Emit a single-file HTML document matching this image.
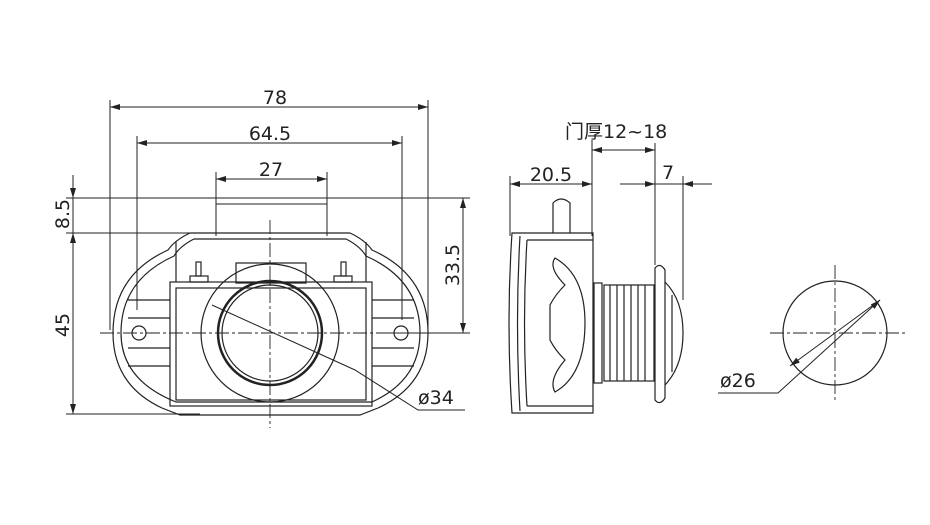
<!DOCTYPE html>
<html><head><meta charset="utf-8"><style>body{margin:0;background:#fff}svg{display:block}</style></head><body>
<svg width="930" height="525" viewBox="0 0 930 525" xmlns="http://www.w3.org/2000/svg" font-family="'DejaVu Sans','Noto Sans CJK SC',sans-serif" fill="none" stroke="#222" stroke-width="1.2">
<defs><marker id="a" viewBox="0 0 10 6" refX="10" refY="3" markerWidth="10" markerHeight="6" orient="auto-start-reverse"><path d="M0,0L10,3L0,6z" fill="#222" stroke="none"/></marker></defs>
<!-- front dims -->
<g stroke-width="1">
<line x1="110" y1="100" x2="110" y2="330"/><line x1="428" y1="100" x2="428" y2="330"/>
<line x1="137" y1="136" x2="137" y2="310"/><line x1="402" y1="136" x2="402" y2="320"/>
<line x1="216" y1="172" x2="216" y2="236"/><line x1="327" y1="172" x2="327" y2="236"/>
<line x1="110" y1="107" x2="428" y2="107" marker-start="url(#a)" marker-end="url(#a)"/>
<line x1="137" y1="143" x2="402" y2="143" marker-start="url(#a)" marker-end="url(#a)"/>
<line x1="216" y1="179" x2="327" y2="179" marker-start="url(#a)" marker-end="url(#a)"/>
<line x1="66" y1="198" x2="470" y2="198"/><line x1="66" y1="233" x2="216" y2="233"/>
<line x1="66" y1="414" x2="200" y2="414"/><line x1="380" y1="333" x2="470" y2="333"/>
<line x1="73" y1="175" x2="73" y2="198" marker-end="url(#a)"/><line x1="73" y1="233" x2="73" y2="414" marker-start="url(#a)" marker-end="url(#a)"/>
<line x1="73" y1="198" x2="73" y2="233"/>
<line x1="463" y1="198" x2="463" y2="333" marker-start="url(#a)" marker-end="url(#a)"/>
<line x1="216" y1="198" x2="327" y2="198"/><line x1="216" y1="204" x2="327" y2="204"/>
</g>
<g font-size="19" fill="#222" stroke="none">
<text x="275" y="104" text-anchor="middle">78</text>
<text x="270" y="140" text-anchor="middle">64.5</text>
<text x="271" y="176" text-anchor="middle">27</text>
<text transform="translate(69,214) rotate(-90)" text-anchor="middle">8.5</text>
<text transform="translate(69,325) rotate(-90)" text-anchor="middle">45</text>
<text transform="translate(459,265) rotate(-90)" text-anchor="middle">33.5</text>
<text x="418" y="404">ø34</text>
<text x="565" y="138">门厚12~18</text>
<text x="551" y="181" text-anchor="middle">20.5</text>
<text x="668" y="179" text-anchor="middle">7</text>
<text x="720" y="387">ø26</text>
</g>
<!-- front body -->
<path d="M190,233 L350,233 Q365,240 372,250 Q428,275 428,333 Q428,385 378,408 L360,415 L180,415 L162,408 Q113,385 113,333 Q113,275 168,250 Q175,240 190,233Z"/>
<path d="M194,239 L346,239 Q360,246 366,256 Q420,280 420,333 Q420,380 372,402 L176,402 Q121,380 121,333 Q121,280 174,256 Q180,246 194,239Z"/>
<rect x="170" y="282" width="202" height="124"/><rect x="176" y="288" width="190" height="112"/>
<line x1="176" y1="242" x2="176" y2="282"/><line x1="366" y1="242" x2="366" y2="282"/>
<rect x="236" y="263" width="70" height="20"/>
<rect x="190" y="276" width="18" height="6"/><rect x="196" y="262" width="5" height="14"/>
<rect x="334" y="276" width="18" height="6"/><rect x="341" y="262" width="5" height="14"/>
<path d="M128,300 H170 M128,318 H170 M128,348 H170 M128,366 H170 M372,300 H414 M372,318 H414 M372,348 H414 M372,366 H414"/>
<circle cx="139" cy="333" r="7"/><circle cx="401" cy="333" r="7"/>
<circle cx="270" cy="333" r="69"/><circle cx="270" cy="333" r="52" stroke-width="2.5"/><circle cx="270" cy="333" r="48"/>
<g stroke-dasharray="14,3,3,3" stroke-width="0.9"><line x1="100" y1="333" x2="440" y2="333"/><line x1="270" y1="220" x2="270" y2="428"/></g>
<path d="M212,305 L355,370 L418,410 L465,410" stroke-width="1"/>
<!-- side view -->
<g stroke-width="1">
<line x1="510" y1="176" x2="510" y2="236"/><line x1="592" y1="140" x2="592" y2="236"/>
<line x1="655" y1="143" x2="655" y2="265"/><line x1="683" y1="176" x2="683" y2="300"/>
<line x1="510" y1="184" x2="592" y2="184" marker-start="url(#a)" marker-end="url(#a)"/>
<line x1="592" y1="150" x2="655" y2="150" marker-start="url(#a)" marker-end="url(#a)"/>
<line x1="620" y1="184" x2="655" y2="184" marker-end="url(#a)"/><line x1="712" y1="184" x2="683" y2="184" marker-end="url(#a)"/>
<line x1="655" y1="184" x2="683" y2="184"/>
</g>
<path d="M553,233 V203 Q561,195 570,203 V233"/>
<path d="M512,233 H593 V413 H512 Q506,323 512,233Z"/>
<path d="M520,236 Q515,323 520,411"/><path d="M527,240 H593 M527,406 H593"/>
<path d="M527,240 Q522,323 527,406"/>
<path d="M555,258 Q585,275 585,323 Q585,375 555,392 Q548,380 565,360 Q555,350 550,340 L550,305 Q555,295 565,285 Q548,268 555,258Z"/>
<rect x="594" y="283" width="8" height="100"/><rect x="604" y="285" width="50" height="96"/>
<path d="M610,285V381M617,285V381M624,285V381M631,285V381M638,285V381M645,285V381"/>
<path d="M655,268 Q660,262 665,270 L665,398 Q660,406 655,400Z"/>
<path d="M665,282 Q683,300 683,333 Q683,366 665,385"/><path d="M672,295V372"/>
<!-- circle view -->
<circle cx="835" cy="333" r="52"/>
<g stroke-dasharray="14,3,3,3" stroke-width="0.9"><line x1="770" y1="333" x2="905" y2="333"/><line x1="835" y1="265" x2="835" y2="402"/></g>
<path d="M718,393 H778 L880,300" stroke-width="1" marker-end="url(#a)"/>
<line x1="880" y1="300" x2="790" y2="366" stroke-width="1" marker-end="url(#a)"/>
</svg>
</body></html>
